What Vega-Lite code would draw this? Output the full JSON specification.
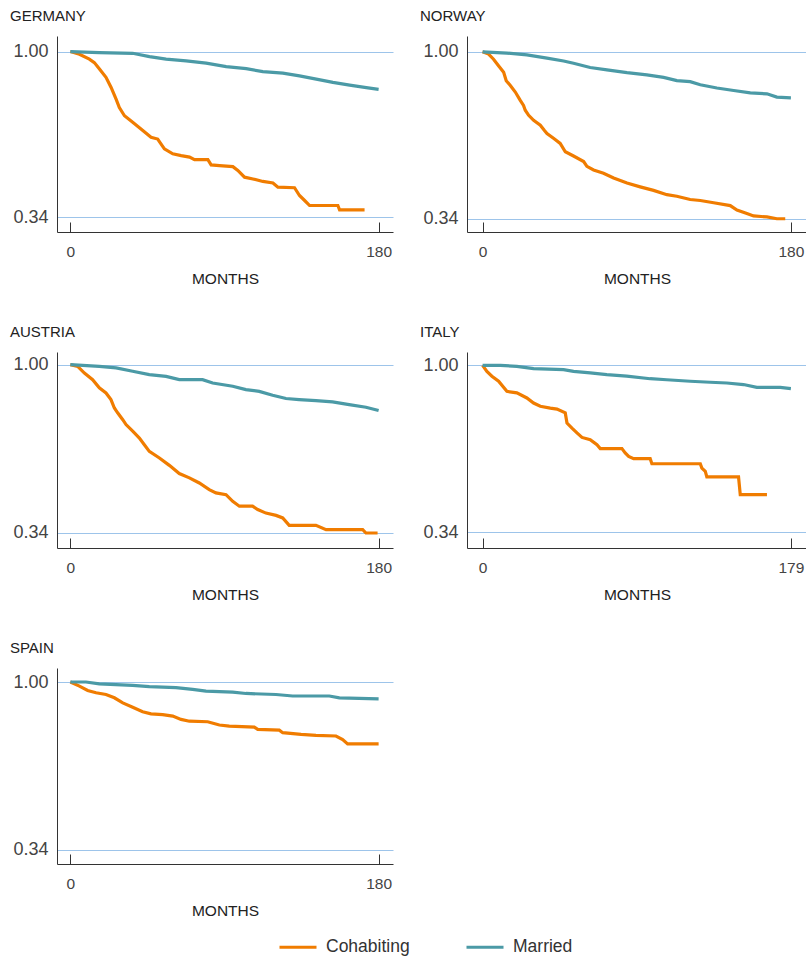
{
"$schema": "https://vega.github.io/schema/vega-lite/v6.json",
"background": "white",
"padding": {"left": 9, "top": 9, "right": 0, "bottom": 0},
"datasets": {
"surv": [
{"country":"Germany","status":"Cohabiting","month":0,"survival":1.0},
{"country":"Germany","status":"Cohabiting","month":5.3,"survival":0.989},
{"country":"Germany","status":"Cohabiting","month":11.1,"survival":0.970},
{"country":"Germany","status":"Cohabiting","month":14.0,"survival":0.956},
{"country":"Germany","status":"Cohabiting","month":17.0,"survival":0.930},
{"country":"Germany","status":"Cohabiting","month":20.8,"survival":0.897},
{"country":"Germany","status":"Cohabiting","month":23.8,"survival":0.857},
{"country":"Germany","status":"Cohabiting","month":26.7,"survival":0.810},
{"country":"Germany","status":"Cohabiting","month":28.6,"survival":0.777},
{"country":"Germany","status":"Cohabiting","month":31.6,"survival":0.744},
{"country":"Germany","status":"Cohabiting","month":36.4,"survival":0.718},
{"country":"Germany","status":"Cohabiting","month":42.3,"survival":0.685},
{"country":"Germany","status":"Cohabiting","month":47.1,"survival":0.658},
{"country":"Germany","status":"Cohabiting","month":51.0,"survival":0.651},
{"country":"Germany","status":"Cohabiting","month":54.9,"survival":0.612},
{"country":"Germany","status":"Cohabiting","month":59.8,"survival":0.592},
{"country":"Germany","status":"Cohabiting","month":64.7,"survival":0.585},
{"country":"Germany","status":"Cohabiting","month":69.6,"survival":0.579},
{"country":"Germany","status":"Cohabiting","month":72.5,"survival":0.569},
{"country":"Germany","status":"Cohabiting","month":80.3,"survival":0.569},
{"country":"Germany","status":"Cohabiting","month":82.2,"survival":0.548},
{"country":"Germany","status":"Cohabiting","month":87.1,"survival":0.545},
{"country":"Germany","status":"Cohabiting","month":94.9,"survival":0.541},
{"country":"Germany","status":"Cohabiting","month":97.8,"survival":0.526},
{"country":"Germany","status":"Cohabiting","month":101.7,"survival":0.499},
{"country":"Germany","status":"Cohabiting","month":106.6,"survival":0.492},
{"country":"Germany","status":"Cohabiting","month":112.4,"survival":0.482},
{"country":"Germany","status":"Cohabiting","month":118.3,"survival":0.476},
{"country":"Germany","status":"Cohabiting","month":121.2,"survival":0.459},
{"country":"Germany","status":"Cohabiting","month":130.9,"survival":0.457},
{"country":"Germany","status":"Cohabiting","month":133.8,"survival":0.426},
{"country":"Germany","status":"Cohabiting","month":136.8,"survival":0.406},
{"country":"Germany","status":"Cohabiting","month":139.7,"survival":0.386},
{"country":"Germany","status":"Cohabiting","month":156.2,"survival":0.386},
{"country":"Germany","status":"Cohabiting","month":157.2,"survival":0.369},
{"country":"Germany","status":"Cohabiting","month":171.8,"survival":0.369},
{"country":"Germany","status":"Married","month":0,"survival":1.0},
{"country":"Germany","status":"Married","month":16.9,"survival":0.996},
{"country":"Germany","status":"Married","month":36.4,"survival":0.993},
{"country":"Germany","status":"Married","month":46.2,"survival":0.980},
{"country":"Germany","status":"Married","month":55.9,"survival":0.970},
{"country":"Germany","status":"Married","month":67.6,"survival":0.963},
{"country":"Germany","status":"Married","month":79.3,"survival":0.954},
{"country":"Germany","status":"Married","month":91.0,"survival":0.940},
{"country":"Germany","status":"Married","month":102.7,"survival":0.932},
{"country":"Germany","status":"Married","month":112.4,"survival":0.920},
{"country":"Germany","status":"Married","month":124.1,"survival":0.914},
{"country":"Germany","status":"Married","month":133.8,"survival":0.903},
{"country":"Germany","status":"Married","month":143.6,"survival":0.890},
{"country":"Germany","status":"Married","month":153.3,"survival":0.877},
{"country":"Germany","status":"Married","month":163.1,"survival":0.866},
{"country":"Germany","status":"Married","month":172.8,"survival":0.856},
{"country":"Germany","status":"Married","month":180.0,"survival":0.849},
{"country":"Norway","status":"Cohabiting","month":0,"survival":1.0},
{"country":"Norway","status":"Cohabiting","month":3.5,"survival":0.991},
{"country":"Norway","status":"Cohabiting","month":6.4,"survival":0.971},
{"country":"Norway","status":"Cohabiting","month":9.3,"survival":0.945},
{"country":"Norway","status":"Cohabiting","month":12.3,"survival":0.919},
{"country":"Norway","status":"Cohabiting","month":13.8,"survival":0.886},
{"country":"Norway","status":"Cohabiting","month":16.2,"survival":0.867},
{"country":"Norway","status":"Cohabiting","month":19.1,"survival":0.841},
{"country":"Norway","status":"Cohabiting","month":22.0,"survival":0.808},
{"country":"Norway","status":"Cohabiting","month":23.9,"survival":0.788},
{"country":"Norway","status":"Cohabiting","month":24.9,"survival":0.769},
{"country":"Norway","status":"Cohabiting","month":26.9,"survival":0.749},
{"country":"Norway","status":"Cohabiting","month":29.8,"survival":0.729},
{"country":"Norway","status":"Cohabiting","month":33.7,"survival":0.710},
{"country":"Norway","status":"Cohabiting","month":36.0,"survival":0.690},
{"country":"Norway","status":"Cohabiting","month":37.6,"survival":0.677},
{"country":"Norway","status":"Cohabiting","month":41.4,"survival":0.658},
{"country":"Norway","status":"Cohabiting","month":45.3,"survival":0.638},
{"country":"Norway","status":"Cohabiting","month":48.3,"survival":0.605},
{"country":"Norway","status":"Cohabiting","month":53.1,"survival":0.588},
{"country":"Norway","status":"Cohabiting","month":59.0,"survival":0.566},
{"country":"Norway","status":"Cohabiting","month":60.9,"survival":0.547},
{"country":"Norway","status":"Cohabiting","month":64.8,"survival":0.533},
{"country":"Norway","status":"Cohabiting","month":70.6,"survival":0.520},
{"country":"Norway","status":"Cohabiting","month":76.5,"survival":0.501},
{"country":"Norway","status":"Cohabiting","month":84.3,"survival":0.481},
{"country":"Norway","status":"Cohabiting","month":92.0,"survival":0.466},
{"country":"Norway","status":"Cohabiting","month":99.8,"survival":0.452},
{"country":"Norway","status":"Cohabiting","month":107.6,"survival":0.435},
{"country":"Norway","status":"Cohabiting","month":113.4,"survival":0.429},
{"country":"Norway","status":"Cohabiting","month":121.2,"survival":0.416},
{"country":"Norway","status":"Cohabiting","month":127.1,"survival":0.412},
{"country":"Norway","status":"Cohabiting","month":134.9,"survival":0.403},
{"country":"Norway","status":"Cohabiting","month":144.6,"survival":0.392},
{"country":"Norway","status":"Cohabiting","month":148.5,"survival":0.374},
{"country":"Norway","status":"Cohabiting","month":154.3,"survival":0.361},
{"country":"Norway","status":"Cohabiting","month":158.2,"survival":0.351},
{"country":"Norway","status":"Cohabiting","month":166.0,"survival":0.347},
{"country":"Norway","status":"Cohabiting","month":171.8,"survival":0.340},
{"country":"Norway","status":"Cohabiting","month":176.7,"survival":0.340},
{"country":"Norway","status":"Married","month":0,"survival":1.0},
{"country":"Norway","status":"Married","month":14.2,"survival":0.995},
{"country":"Norway","status":"Married","month":25.9,"survival":0.988},
{"country":"Norway","status":"Married","month":37.6,"survival":0.975},
{"country":"Norway","status":"Married","month":47.3,"survival":0.964},
{"country":"Norway","status":"Married","month":53.1,"survival":0.955},
{"country":"Norway","status":"Married","month":62.8,"survival":0.938},
{"country":"Norway","status":"Married","month":72.6,"survival":0.929},
{"country":"Norway","status":"Married","month":84.3,"survival":0.918},
{"country":"Norway","status":"Married","month":95.9,"survival":0.909},
{"country":"Norway","status":"Married","month":105.7,"survival":0.899},
{"country":"Norway","status":"Married","month":113.4,"survival":0.886},
{"country":"Norway","status":"Married","month":121.2,"survival":0.882},
{"country":"Norway","status":"Married","month":127.1,"survival":0.870},
{"country":"Norway","status":"Married","month":136.8,"survival":0.857},
{"country":"Norway","status":"Married","month":146.6,"survival":0.847},
{"country":"Norway","status":"Married","month":156.3,"survival":0.838},
{"country":"Norway","status":"Married","month":166.0,"survival":0.834},
{"country":"Norway","status":"Married","month":171.8,"survival":0.821},
{"country":"Norway","status":"Married","month":180.0,"survival":0.818},
{"country":"Austria","status":"Cohabiting","month":0,"survival":1.0},
{"country":"Austria","status":"Cohabiting","month":4.3,"survival":0.993},
{"country":"Austria","status":"Cohabiting","month":8.2,"survival":0.967},
{"country":"Austria","status":"Cohabiting","month":13.0,"survival":0.941},
{"country":"Austria","status":"Cohabiting","month":16.9,"survival":0.909},
{"country":"Austria","status":"Cohabiting","month":20.8,"survival":0.889},
{"country":"Austria","status":"Cohabiting","month":23.7,"survival":0.863},
{"country":"Austria","status":"Cohabiting","month":25.7,"survival":0.830},
{"country":"Austria","status":"Cohabiting","month":27.6,"survival":0.811},
{"country":"Austria","status":"Cohabiting","month":30.6,"survival":0.784},
{"country":"Austria","status":"Cohabiting","month":32.5,"survival":0.765},
{"country":"Austria","status":"Cohabiting","month":36.4,"survival":0.739},
{"country":"Austria","status":"Cohabiting","month":40.3,"survival":0.712},
{"country":"Austria","status":"Cohabiting","month":43.2,"survival":0.686},
{"country":"Austria","status":"Cohabiting","month":46.1,"survival":0.660},
{"country":"Austria","status":"Cohabiting","month":52.0,"survival":0.634},
{"country":"Austria","status":"Cohabiting","month":57.8,"survival":0.605},
{"country":"Austria","status":"Cohabiting","month":63.6,"survival":0.573},
{"country":"Austria","status":"Cohabiting","month":69.5,"survival":0.556},
{"country":"Austria","status":"Cohabiting","month":75.3,"survival":0.536},
{"country":"Austria","status":"Cohabiting","month":81.1,"survival":0.510},
{"country":"Austria","status":"Cohabiting","month":85.0,"survival":0.497},
{"country":"Austria","status":"Cohabiting","month":90.9,"survival":0.490},
{"country":"Austria","status":"Cohabiting","month":94.8,"survival":0.464},
{"country":"Austria","status":"Cohabiting","month":98.7,"survival":0.445},
{"country":"Austria","status":"Cohabiting","month":106.4,"survival":0.445},
{"country":"Austria","status":"Cohabiting","month":109.4,"survival":0.432},
{"country":"Austria","status":"Cohabiting","month":114.2,"survival":0.418},
{"country":"Austria","status":"Cohabiting","month":120.1,"survival":0.409},
{"country":"Austria","status":"Cohabiting","month":124.0,"survival":0.399},
{"country":"Austria","status":"Cohabiting","month":127.8,"survival":0.370},
{"country":"Austria","status":"Cohabiting","month":143.4,"survival":0.370},
{"country":"Austria","status":"Cohabiting","month":149.3,"survival":0.353},
{"country":"Austria","status":"Cohabiting","month":170.7,"survival":0.353},
{"country":"Austria","status":"Cohabiting","month":172.6,"survival":0.340},
{"country":"Austria","status":"Cohabiting","month":179.4,"survival":0.340},
{"country":"Austria","status":"Married","month":0,"survival":1.0},
{"country":"Austria","status":"Married","month":16.9,"survival":0.993},
{"country":"Austria","status":"Married","month":26.7,"survival":0.987},
{"country":"Austria","status":"Married","month":36.4,"survival":0.974},
{"country":"Austria","status":"Married","month":46.1,"survival":0.961},
{"country":"Austria","status":"Married","month":55.9,"survival":0.954},
{"country":"Austria","status":"Married","month":63.6,"survival":0.941},
{"country":"Austria","status":"Married","month":77.2,"survival":0.941},
{"country":"Austria","status":"Married","month":83.1,"survival":0.928},
{"country":"Austria","status":"Married","month":94.8,"survival":0.915},
{"country":"Austria","status":"Married","month":102.5,"survival":0.902},
{"country":"Austria","status":"Married","month":110.3,"survival":0.895},
{"country":"Austria","status":"Married","month":118.1,"survival":0.880},
{"country":"Austria","status":"Married","month":125.9,"survival":0.867},
{"country":"Austria","status":"Married","month":133.6,"survival":0.863},
{"country":"Austria","status":"Married","month":143.4,"survival":0.859},
{"country":"Austria","status":"Married","month":153.1,"survival":0.854},
{"country":"Austria","status":"Married","month":162.8,"survival":0.843},
{"country":"Austria","status":"Married","month":172.6,"survival":0.833},
{"country":"Austria","status":"Married","month":180.0,"survival":0.820},
{"country":"Italy","status":"Cohabiting","month":0,"survival":1.0},
{"country":"Italy","status":"Cohabiting","month":2.5,"survival":0.976},
{"country":"Italy","status":"Cohabiting","month":5.4,"survival":0.957},
{"country":"Italy","status":"Cohabiting","month":9.3,"survival":0.937},
{"country":"Italy","status":"Cohabiting","month":14.1,"survival":0.897},
{"country":"Italy","status":"Cohabiting","month":19.9,"survival":0.891},
{"country":"Italy","status":"Cohabiting","month":25.7,"survival":0.871},
{"country":"Italy","status":"Cohabiting","month":29.6,"survival":0.851},
{"country":"Italy","status":"Cohabiting","month":33.5,"survival":0.838},
{"country":"Italy","status":"Cohabiting","month":39.3,"survival":0.831},
{"country":"Italy","status":"Cohabiting","month":43.2,"survival":0.827},
{"country":"Italy","status":"Cohabiting","month":48.0,"survival":0.812},
{"country":"Italy","status":"Cohabiting","month":49.0,"survival":0.772},
{"country":"Italy","status":"Cohabiting","month":51.9,"survival":0.752},
{"country":"Italy","status":"Cohabiting","month":54.8,"survival":0.733},
{"country":"Italy","status":"Cohabiting","month":57.7,"survival":0.715},
{"country":"Italy","status":"Cohabiting","month":62.5,"survival":0.706},
{"country":"Italy","status":"Cohabiting","month":66.4,"survival":0.686},
{"country":"Italy","status":"Cohabiting","month":68.3,"survival":0.671},
{"country":"Italy","status":"Cohabiting","month":80.9,"survival":0.671},
{"country":"Italy","status":"Cohabiting","month":82.8,"survival":0.654},
{"country":"Italy","status":"Cohabiting","month":84.8,"survival":0.640},
{"country":"Italy","status":"Cohabiting","month":87.7,"survival":0.631},
{"country":"Italy","status":"Cohabiting","month":97.3,"survival":0.631},
{"country":"Italy","status":"Cohabiting","month":98.3,"survival":0.611},
{"country":"Italy","status":"Cohabiting","month":126.4,"survival":0.611},
{"country":"Italy","status":"Cohabiting","month":127.3,"survival":0.594},
{"country":"Italy","status":"Cohabiting","month":129.3,"survival":0.581},
{"country":"Italy","status":"Cohabiting","month":130.2,"survival":0.559},
{"country":"Italy","status":"Cohabiting","month":148.6,"survival":0.559},
{"country":"Italy","status":"Cohabiting","month":149.6,"survival":0.489},
{"country":"Italy","status":"Cohabiting","month":165.1,"survival":0.489},
{"country":"Italy","status":"Married","month":0,"survival":1.0},
{"country":"Italy","status":"Married","month":10.3,"survival":1.0},
{"country":"Italy","status":"Married","month":19.9,"survival":0.996},
{"country":"Italy","status":"Married","month":29.6,"survival":0.987},
{"country":"Italy","status":"Married","month":47.0,"survival":0.983},
{"country":"Italy","status":"Married","month":52.8,"survival":0.976},
{"country":"Italy","status":"Married","month":62.5,"survival":0.970},
{"country":"Italy","status":"Married","month":72.1,"survival":0.963},
{"country":"Italy","status":"Married","month":83.7,"survival":0.957},
{"country":"Italy","status":"Married","month":97.3,"survival":0.947},
{"country":"Italy","status":"Married","month":106.9,"survival":0.943},
{"country":"Italy","status":"Married","month":120.5,"survival":0.937},
{"country":"Italy","status":"Married","month":132.1,"survival":0.933},
{"country":"Italy","status":"Married","month":141.8,"survival":0.930},
{"country":"Italy","status":"Married","month":151.5,"survival":0.924},
{"country":"Italy","status":"Married","month":159.2,"survival":0.913},
{"country":"Italy","status":"Married","month":172.8,"survival":0.913},
{"country":"Italy","status":"Married","month":179.0,"survival":0.908},
{"country":"Spain","status":"Cohabiting","month":0,"survival":1.0},
{"country":"Spain","status":"Cohabiting","month":5.3,"survival":0.984},
{"country":"Spain","status":"Cohabiting","month":10.1,"survival":0.967},
{"country":"Spain","status":"Cohabiting","month":15.0,"survival":0.958},
{"country":"Spain","status":"Cohabiting","month":20.8,"survival":0.951},
{"country":"Spain","status":"Cohabiting","month":25.7,"survival":0.938},
{"country":"Spain","status":"Cohabiting","month":30.6,"survival":0.918},
{"country":"Spain","status":"Cohabiting","month":36.4,"survival":0.901},
{"country":"Spain","status":"Cohabiting","month":42.2,"survival":0.883},
{"country":"Spain","status":"Cohabiting","month":47.1,"survival":0.875},
{"country":"Spain","status":"Cohabiting","month":53.9,"survival":0.872},
{"country":"Spain","status":"Cohabiting","month":59.8,"survival":0.866},
{"country":"Spain","status":"Cohabiting","month":64.6,"survival":0.853},
{"country":"Spain","status":"Cohabiting","month":69.5,"survival":0.846},
{"country":"Spain","status":"Cohabiting","month":80.2,"survival":0.844},
{"country":"Spain","status":"Cohabiting","month":87.0,"survival":0.831},
{"country":"Spain","status":"Cohabiting","month":92.8,"survival":0.827},
{"country":"Spain","status":"Cohabiting","month":107.4,"survival":0.823},
{"country":"Spain","status":"Cohabiting","month":109.4,"survival":0.814},
{"country":"Spain","status":"Cohabiting","month":122.0,"survival":0.811},
{"country":"Spain","status":"Cohabiting","month":124.0,"survival":0.801},
{"country":"Spain","status":"Cohabiting","month":134.7,"survival":0.794},
{"country":"Spain","status":"Cohabiting","month":143.4,"survival":0.790},
{"country":"Spain","status":"Cohabiting","month":155.1,"survival":0.788},
{"country":"Spain","status":"Cohabiting","month":159.0,"survival":0.774},
{"country":"Spain","status":"Cohabiting","month":161.9,"survival":0.757},
{"country":"Spain","status":"Cohabiting","month":180.0,"survival":0.757},
{"country":"Spain","status":"Married","month":0,"survival":1.0},
{"country":"Spain","status":"Married","month":9.1,"survival":1.0},
{"country":"Spain","status":"Married","month":16.9,"survival":0.993},
{"country":"Spain","status":"Married","month":36.4,"survival":0.987},
{"country":"Spain","status":"Married","month":46.1,"survival":0.982},
{"country":"Spain","status":"Married","month":61.7,"survival":0.978},
{"country":"Spain","status":"Married","month":71.4,"survival":0.971},
{"country":"Spain","status":"Married","month":79.2,"survival":0.964},
{"country":"Spain","status":"Married","month":94.8,"survival":0.960},
{"country":"Spain","status":"Married","month":102.5,"survival":0.955},
{"country":"Spain","status":"Married","month":120.1,"survival":0.951},
{"country":"Spain","status":"Married","month":129.8,"survival":0.945},
{"country":"Spain","status":"Married","month":151.2,"survival":0.945},
{"country":"Spain","status":"Married","month":157.1,"survival":0.938},
{"country":"Spain","status":"Married","month":180.0,"survival":0.934}
]
},
"columns": 2,
"spacing": {"row": 38, "column": 26},
"resolve": {"scale": {"x": "independent", "y": "independent", "color": "shared"}, "axis": {"x": "independent", "y": "independent"}},
"concat": [
{
"title": "GERMANY", "width": 336, "height": 196,
"data": {"name": "surv"},
"transform": [{"filter": "datum.country === 'Germany'"}],
"mark": {"type": "line", "strokeWidth": 3.2},
"encoding": {
"x": {"field": "month", "type": "quantitative", "scale": {"domain": [-7.8, 188.4], "nice": false, "zero": false}, "axis": {"values": [0, 180], "title": "MONTHS"}},
"y": {"field": "survival", "type": "quantitative", "scale": {"domain": [0.2804, 1.062], "nice": false, "zero": false}, "axis": {"values": [0.34, 1], "format": ".2f", "title": null}},
"color": {"field": "status", "type": "nominal", "scale": {"domain": ["Cohabiting", "Married"], "range": ["#F07C00", "#4B9AA6"]}, "legend": {"title": null, "orient": "none", "legendX": 221, "legendY": 891, "direction": "horizontal"}}
}
},
{
"title": "NORWAY", "width": 340, "height": 196,
"data": {"name": "surv"},
"transform": [{"filter": "datum.country === 'Norway'"}],
"mark": {"type": "line", "strokeWidth": 3.2},
"encoding": {
"x": {"field": "month", "type": "quantitative", "scale": {"domain": [-9.1, 189.4], "nice": false, "zero": false}, "axis": {"values": [0, 180], "title": "MONTHS"}},
"y": {"field": "survival", "type": "quantitative", "scale": {"domain": [0.2875, 1.0627], "nice": false, "zero": false}, "axis": {"values": [0.34, 1], "format": ".2f", "title": null}},
"color": {"field": "status", "type": "nominal", "scale": {"domain": ["Cohabiting", "Married"], "range": ["#F07C00", "#4B9AA6"]}, "legend": {"title": null, "orient": "none", "legendX": 221, "legendY": 891, "direction": "horizontal"}}
}
},
{
"title": "AUSTRIA", "width": 336, "height": 196,
"data": {"name": "surv"},
"transform": [{"filter": "datum.country === 'Austria'"}],
"mark": {"type": "line", "strokeWidth": 3.2},
"encoding": {
"x": {"field": "month", "type": "quantitative", "scale": {"domain": [-7.8, 188.4], "nice": false, "zero": false}, "axis": {"values": [0, 180], "title": "MONTHS"}},
"y": {"field": "survival", "type": "quantitative", "scale": {"domain": [0.2812, 1.0494], "nice": false, "zero": false}, "axis": {"values": [0.34, 1], "format": ".2f", "title": null}},
"color": {"field": "status", "type": "nominal", "scale": {"domain": ["Cohabiting", "Married"], "range": ["#F07C00", "#4B9AA6"]}, "legend": {"title": null, "orient": "none", "legendX": 221, "legendY": 891, "direction": "horizontal"}}
}
},
{
"title": "ITALY", "width": 340, "height": 196,
"data": {"name": "surv"},
"transform": [{"filter": "datum.country === 'Italy'"}],
"mark": {"type": "line", "strokeWidth": 3.2},
"encoding": {
"x": {"field": "month", "type": "quantitative", "scale": {"domain": [-9.05, 188.35], "nice": false, "zero": false}, "axis": {"values": [0, 179], "title": "MONTHS"}},
"y": {"field": "survival", "type": "quantitative", "scale": {"domain": [0.278, 1.0526], "nice": false, "zero": false}, "axis": {"values": [0.34, 1], "format": ".2f", "title": null}},
"color": {"field": "status", "type": "nominal", "scale": {"domain": ["Cohabiting", "Married"], "range": ["#F07C00", "#4B9AA6"]}, "legend": {"title": null, "orient": "none", "legendX": 221, "legendY": 891, "direction": "horizontal"}}
}
},
{
"title": "SPAIN", "width": 336, "height": 196,
"data": {"name": "surv"},
"transform": [{"filter": "datum.country === 'Spain'"}],
"mark": {"type": "line", "strokeWidth": 3.2},
"encoding": {
"x": {"field": "month", "type": "quantitative", "scale": {"domain": [-7.8, 188.4], "nice": false, "zero": false}, "axis": {"values": [0, 180], "title": "MONTHS"}},
"y": {"field": "survival", "type": "quantitative", "scale": {"domain": [0.2849, 1.0551], "nice": false, "zero": false}, "axis": {"values": [0.34, 1], "format": ".2f", "title": null}},
"color": {"field": "status", "type": "nominal", "scale": {"domain": ["Cohabiting", "Married"], "range": ["#F07C00", "#4B9AA6"]}, "legend": {"title": null, "orient": "none", "legendX": 221, "legendY": 891, "direction": "horizontal"}}
}
}
],
"config": {
"view": {"stroke": null},
"font": "Liberation Sans",
"title": {"anchor": "start", "frame": "bounds", "fontSize": 15, "fontWeight": "normal", "color": "#222222", "offset": 12, "dx": -3},
"axis": {"domainColor": "#333333", "domainWidth": 1, "tickColor": "#333333", "tickWidth": 1, "labelColor": "#444444", "titleColor": "#222222", "titleFontWeight": "normal", "labelFont": "Liberation Sans", "titleFont": "Liberation Sans"},
"axisX": {"grid": false, "tickSize": -10, "labelFontSize": 15.5, "labelPadding": 22, "titleFontSize": 15.5, "titlePadding": 12, "labelFlush": false},
"axisY": {"grid": true, "gridColor": "#9DC4EA", "gridOpacity": 1, "gridWidth": 1, "ticks": false, "labelFontSize": 18, "labelPadding": 9},
"legend": {"symbolType": "stroke", "symbolSize": 1369, "symbolStrokeWidth": 3, "labelFontSize": 17.5, "labelColor": "#333333", "labelOffset": 8, "columnPadding": 50, "labelLimit": 0, "labelFont": "Liberation Sans"}
}
}
